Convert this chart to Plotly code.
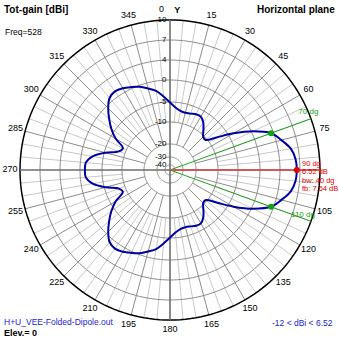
import numpy as np
import plotly.graph_objects as go

# ---------------- data ----------------
ANGLES = list(range(0, 360, 5))  # azimuth, degrees (0 = Y, clockwise)
GAIN_DBI = [
    -5.1, -6.3, -7.0, -7.2, -7.0, -6.6, -6.6, -7.5, -9.0, -10.5,   # 0..45
    -10.6, -7.8, -3.8, 0.3, 3.52, 4.8, 5.9, 6.4,                   # 50..85
    6.52, 6.4, 5.9, 4.8, 3.52, 0.3, -3.8, -7.8, -10.6, -10.5,      # 90..135
    -9.0, -7.5, -6.6, -6.6, -7.0, -7.2, -7.0, -6.3,                # 140..175
    -5.1, -3.7, -2.2, -1.3, -0.35, 0.3, 0.9, 1.2, 0.8, -0.6,       # 180..225
    -2.4, -4.2, -6.3, -9.0, -8.4, -5.3, -2.6, -1.25,               # 230..265
    -1.12, -1.25, -2.6, -5.3, -8.4, -9.0, -6.3, -4.2, -2.4, -0.6,  # 270..315
    0.8, 1.2, 0.9, 0.3, -0.35, -1.3, -2.2, -3.7,                   # 320..355
]

# radial scale rings (dB value -> fraction of outer radius)
RING_DB = [-40, -30, -20, -10, -5, 0, 4, 7, 10]
RING_LABELS = ["-40", "-30", "-20", "-10", "-5", "0", "4", "7", "10"]
RING_FRAC = [5 / 150, 13 / 150, 26 / 150, 48 / 150, 68 / 150, 90 / 150, 110 / 150, 130 / 150, 1.0]

ANGLE_TICKS = [a for a in range(15, 360, 15) if a != 90]
ANGLE_TICK_TEXT = [str(a) for a in ANGLE_TICKS]

MAX_ANGLE = 90
MAX_GAIN = 6.52
BW_ANGLES = [70, 110]
BW_GAIN = 3.52

RMAX = 1.1  # radial range beyond the outer ring, room for the angle labels


def scale(db):
    return np.interp(db, RING_DB, RING_FRAC)


FONT = "Liberation Sans, Arial, sans-serif"
fig = go.Figure()

# 5-degree light spokes
th, rr = [], []
for a in range(0, 360, 5):
    if a % 15:
        th += [a, a, None]
        rr += [float(scale(-10)), 1.0, None]
fig.add_trace(go.Scatterpolar(theta=th, r=rr, mode="lines",
                              line=dict(color="#c8c8c8", width=1), hoverinfo="skip"))
# 15-degree spokes
th, rr = [], []
for a in range(0, 360, 15):
    if a % 90:
        th += [a, a, None]
        rr += [float(scale(-20)), 1.0, None]
fig.add_trace(go.Scatterpolar(theta=th, r=rr, mode="lines",
                              line=dict(color="#8c8c8c", width=1), hoverinfo="skip"))
# rings
circ = np.arange(0, 361, 2)
for db in RING_DB[:-1]:
    fig.add_trace(go.Scatterpolar(theta=circ, r=np.full(circ.shape, float(scale(db))), mode="lines",
                                  line=dict(color="#8c8c8c", width=1), hoverinfo="skip"))
fig.add_trace(go.Scatterpolar(theta=circ, r=np.ones(circ.shape), mode="lines",
                              line=dict(color="#000000", width=1.5), hoverinfo="skip"))
# main axes
fig.add_trace(go.Scatterpolar(theta=[0, 0, 180, None, 270, 270, 90], r=[1, 0, 1, None, 1, 0, 1],
                              mode="lines", line=dict(color="#6e6e6e", width=1.6), hoverinfo="skip"))
# bandwidth lines and max line
fig.add_trace(go.Scatterpolar(theta=[BW_ANGLES[0], 0, BW_ANGLES[1]], r=[1, 0, 1], mode="lines",
                              line=dict(color="#22a022", width=1), hoverinfo="skip"))
fig.add_trace(go.Scatterpolar(theta=[0, MAX_ANGLE], r=[0, 1], mode="lines",
                              line=dict(color="#e04848", width=1.3), hoverinfo="skip"))

# pattern
fig.add_trace(go.Scatterpolar(theta=ANGLES + [ANGLES[0]],
                              r=scale(np.array(GAIN_DBI + [GAIN_DBI[0]])),
                              mode="lines", line=dict(color="#00009c", width=2, shape="spline"),
                              hoverinfo="skip"))
fig.add_trace(go.Scatterpolar(theta=BW_ANGLES, r=scale(np.array([BW_GAIN, BW_GAIN])), mode="markers",
                              marker=dict(color="#10a010", size=6), hoverinfo="skip"))
fig.add_trace(go.Scatterpolar(theta=[MAX_ANGLE], r=[float(scale(MAX_GAIN))], mode="markers",
                              marker=dict(color="#e00000", size=6), hoverinfo="skip"))

# radial labels
fig.add_trace(go.Scatterpolar(theta=[0] * len(RING_DB), r=RING_FRAC, mode="markers+text",
                              text=RING_LABELS, textposition="middle left",
                              marker=dict(size=4, opacity=0),
                              textfont=dict(family=FONT, size=8, color="#000000"),
                              cliponaxis=False, hoverinfo="skip"))
# angular labels
fig.add_trace(go.Scatterpolar(theta=ANGLE_TICKS, r=[1.067] * len(ANGLE_TICKS), mode="text",
                              text=ANGLE_TICK_TEXT, textposition="middle center",
                              textfont=dict(family=FONT, size=9, color="#000000"),
                              cliponaxis=False, hoverinfo="skip"))
fig.add_trace(go.Scatterpolar(theta=[357, 2.6], r=[1.067, 1.06], mode="text",
                              text=["0", "<b>Y</b>"], textposition="middle center",
                              textfont=dict(family=FONT, size=9, color="#000000"),
                              cliponaxis=False, hoverinfo="skip"))
# bandwidth labels
fig.add_trace(go.Scatterpolar(theta=[67.3, 108.7], r=[1.0, 0.936], mode="text",
                              text=["70 dg", "110 dg"], textposition="middle center",
                              textfont=dict(family=FONT, size=8, color="#10a010"),
                              cliponaxis=False, hoverinfo="skip"))


def ann(text, px, py, size, color="#000000", xanchor="left"):
    return dict(text=text, x=px / 339, y=1 - py / 339, xref="paper", yref="paper",
                xanchor=xanchor, yanchor="middle", showarrow=False,
                font=dict(family=FONT, size=size, color=color))


annotations = [
    ann("<b>Tot-gain [dBi]</b>", 2, 10, 10),
    ann("<b>Horizontal plane</b>", 337, 10, 10, xanchor="right"),
    ann("Freq=528", 3, 32, 8.5),
    ann("H+U_VEE-Folded-Dipole.out", 2, 322, 8.5, color="#1c1cc8"),
    ann("<b>Elev.= 0</b>", 2, 333, 9),
    ann("-12 &lt; dBi &lt; 6.52", 335, 323, 8.5, color="#1c1cc8", xanchor="right"),
    ann("90 dg", 300, 163, 7.5, color="#e00000"),
    ann("6.52 dB", 300, 171.5, 7.5, color="#e00000"),
    ann("bw: 40 dg", 300, 180, 7.5, color="#e00000"),
    ann("fb: 7.64 dB", 300, 188.5, 7.5, color="#e00000"),
]

R_PX = 150 * RMAX
CX, CY = 170, 169  # centre, pixels from left / bottom
fig.update_layout(
    width=339, height=339, margin=dict(l=0, r=0, t=0, b=0),
    paper_bgcolor="white", plot_bgcolor="white", showlegend=False,
    annotations=annotations,
    polar=dict(
        domain=dict(x=[(CX - R_PX) / 339, (CX + R_PX) / 339], y=[(CY - R_PX) / 339, (CY + R_PX) / 339]),
        bgcolor="rgba(0,0,0,0)",
        radialaxis=dict(range=[0, RMAX], visible=False, showgrid=False),
        angularaxis=dict(rotation=90, direction="clockwise", visible=False, showgrid=False),
    ),
)

fig.write_html("out.html")
